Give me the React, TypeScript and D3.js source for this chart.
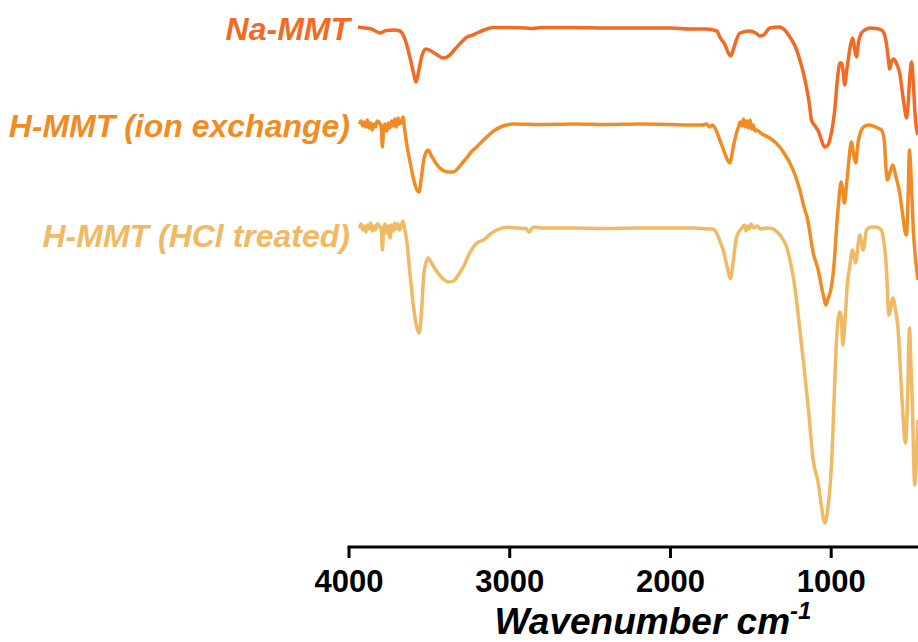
import React from "react";
import * as d3 from "d3";

// Wavenumber (cm^-1) and transmittance (a.u., offset stacked)
const naMMT: [number, number][] = [
  [3944, 521], [3900, 520], [3860, 519], [3807, 515], [3770, 517.5], [3720, 518], [3683, 517],
  [3650, 508], [3620, 490], [3600, 476], [3583, 466], [3565, 478], [3545, 493], [3521, 499],
  [3490, 497], [3450, 493], [3415, 490], [3380, 492], [3340, 499], [3300, 506], [3266, 511],
  [3230, 513], [3204, 515], [3160, 518], [3104, 520.5], [3000, 520.5], [2900, 520], [2860, 519.5],
  [2800, 520.5], [2600, 520.5], [2400, 520], [2200, 520], [2000, 520], [1880, 519], [1780, 519],
  [1711, 517], [1693, 511], [1660, 503], [1640, 495], [1626, 492], [1610, 498], [1590, 508],
  [1568, 515], [1506, 517], [1470, 515], [1444, 512], [1420, 513], [1382, 520], [1320, 521],
  [1290, 518], [1257, 511], [1225, 502], [1195, 488], [1170, 473], [1154, 461], [1135, 443],
  [1123, 428], [1100, 422], [1092, 420], [1075, 415], [1061, 408], [1040, 401], [1020, 403],
  [1009, 408], [990, 423], [978, 438], [960, 471], [945, 485], [937, 485], [925, 476], [916, 463],
  [905, 476], [897, 485], [880, 503], [866, 510], [855, 500], [843, 491], [830, 506], [812, 515],
  [790, 518], [760, 520], [720, 519.5], [688, 518], [672, 515], [657, 505], [645, 490], [636, 479],
  [625, 486], [611, 489], [590, 483], [574, 475], [555, 453], [540, 436], [532, 430], [522, 443],
  [510, 473], [500, 486], [490, 468], [480, 438], [470, 420], [460, 413],
];

const hIonExchange: [number, number][] = [
  [3935, 424], [3925, 427], [3915, 422], [3905, 426], [3895, 421], [3885, 428], [3875, 420],
  [3865, 425], [3855, 418], [3845, 424], [3835, 421], [3825, 427], [3800, 422], [3792, 401],
  [3785, 420], [3775, 424], [3765, 417], [3755, 425], [3745, 420], [3735, 427], [3725, 422],
  [3715, 429], [3705, 421], [3695, 430], [3685, 424], [3675, 426], [3664, 431], [3655, 420],
  [3640, 403], [3620, 386], [3600, 370], [3580, 359], [3564, 356], [3550, 370], [3535, 388],
  [3520, 396], [3508, 398], [3490, 393], [3460, 385], [3420, 378], [3380, 376], [3353, 376],
  [3320, 380], [3290, 386], [3268, 390], [3240, 396], [3206, 401], [3175, 406], [3143, 411],
  [3100, 417], [3042, 422], [2980, 424], [2800, 423.5], [2600, 424], [2400, 423.5], [2200, 424],
  [2000, 423.5], [1880, 423], [1800, 423], [1776, 424], [1755, 421], [1740, 423], [1720, 419],
  [1693, 408], [1665, 396], [1645, 388], [1630, 385], [1615, 396], [1600, 408], [1589, 415],
  [1575, 422], [1565, 426], [1555, 422], [1545, 429], [1535, 421], [1525, 427], [1515, 420],
  [1505, 428], [1495, 419], [1485, 423], [1475, 417], [1465, 418], [1430, 414], [1382, 410],
  [1320, 401], [1290, 394], [1257, 385], [1225, 373], [1195, 358], [1164, 338], [1150, 331],
  [1112, 295], [1081, 278], [1060, 261], [1045, 250], [1033, 243], [1020, 249], [999, 261],
  [980, 288], [969, 315], [955, 343], [938, 366], [930, 360], [918, 345], [905, 363], [897, 375],
  [885, 396], [874, 406], [860, 393], [847, 385], [835, 403], [812, 418], [790, 422], [760, 423],
  [725, 421], [688, 418], [670, 408], [660, 381], [650, 368], [630, 378], [616, 383], [600, 373],
  [574, 355], [555, 333], [540, 316], [532, 313], [522, 348], [513, 398], [505, 378], [488, 315],
  [470, 281], [460, 268],
];

const hHCl: [number, number][] = [
  [3935, 320], [3925, 324], [3915, 318], [3905, 322], [3895, 316], [3885, 323], [3875, 319],
  [3865, 325], [3855, 317], [3845, 322], [3835, 318], [3825, 324], [3800, 319], [3792, 298],
  [3785, 319], [3775, 324], [3765, 315], [3755, 322], [3745, 310], [3735, 323], [3725, 317],
  [3715, 325], [3705, 319], [3695, 324], [3685, 318], [3675, 322], [3664, 327], [3655, 320],
  [3640, 306], [3620, 273], [3600, 243], [3580, 222], [3563, 215], [3548, 238], [3535, 273],
  [3520, 286], [3507, 290], [3490, 286], [3460, 278], [3420, 270], [3380, 266], [3350, 267],
  [3320, 273], [3289, 281], [3255, 293], [3226, 301], [3195, 306], [3164, 308], [3120, 314],
  [3081, 318], [3019, 320.7], [2950, 320], [2900, 319.5], [2878, 315.7], [2860, 320], [2840, 321],
  [2800, 320], [2600, 320], [2400, 319.5], [2200, 320], [2000, 320], [1850, 320], [1760, 319],
  [1736, 319], [1713, 315], [1690, 306], [1672, 298], [1650, 283], [1626, 269.7], [1610, 286],
  [1589, 311], [1557, 319.7], [1540, 323], [1530, 317], [1520, 322], [1510, 319], [1500, 324],
  [1480, 320], [1460, 322], [1440, 319], [1400, 320], [1361, 319], [1330, 315], [1298, 308],
  [1275, 300], [1257, 288], [1235, 270], [1216, 248], [1195, 218], [1174, 188], [1143, 141],
  [1112, 88], [1081, 65], [1060, 41], [1040, 25], [1020, 41], [999, 81], [978, 165], [967, 208],
  [947, 236], [937, 231], [928, 203], [911, 235], [900, 263], [885, 281], [867, 298], [849, 285],
  [822, 313], [801, 298], [780, 318], [751, 321], [720, 321], [688, 318], [670, 303], [657, 281],
  [641, 233], [616, 250], [600, 238], [585, 221], [559, 148], [538, 105], [525, 148], [513, 220],
  [505, 188], [496, 148], [480, 63], [470, 88], [460, 128],
];

const seriesNames = ["Na-MMT", "H-MMT (ion exchange)", "H-MMT (HCl treated)"];
const seriesColors = ["#F26A24", "#F18C25", "#F0B963"];
const seriesData = [naMMT, hIonExchange, hHCl];
const labelBaselines = [40, 137, 247];
const xTicks = [4000, 3000, 2000, 1000];

const W = 918;
const H = 642;

export default function App() {
  const x = d3.scaleLinear().domain([4000, 460]).range([349, 918]);
  const y = d3.scaleLinear().domain([0, 530]).range([548, 18]);
  const line = d3
    .line<[number, number]>()
    .x((d) => x(d[0]))
    .y((d) => y(d[1]))
    .curve(d3.curveMonotoneX);
  const axisY = 547;

  return (
    <svg
      width={W}
      height={H}
      style={{ position: "absolute", left: 0, top: 0, background: "#fff" }}
      fontFamily="'Liberation Sans', Arial, sans-serif"
    >
      <defs>
        <clipPath id="plotclip">
          <rect x={0} y={0} width={W} height={axisY - 2} />
        </clipPath>
      </defs>
      <g clipPath="url(#plotclip)">
        {seriesData.map((s, i) => (
          <path
            key={i}
            d={line(s) || ""}
            fill="none"
            stroke={seriesColors[i]}
            strokeWidth={3.5}
            strokeLinejoin="round"
          />
        ))}
      </g>
      {seriesNames.map((n, i) => (
        <text
          key={n}
          x={350}
          y={labelBaselines[i]}
          textAnchor="end"
          fontSize={32}
          fontWeight="bold"
          fontStyle="italic"
          fill={seriesColors[i]}
        >
          {n}
        </text>
      ))}
      <line x1={x(4000) - 1.5} x2={W} y1={axisY} y2={axisY} stroke="#000" strokeWidth={3} />
      {xTicks.map((t) => (
        <g key={t}>
          <line x1={x(t)} x2={x(t)} y1={axisY} y2={axisY + 11} stroke="#000" strokeWidth={3} />
          <text
            x={x(t)}
            y={592}
            textAnchor="middle"
            fontSize={31}
            fontWeight="bold"
            fill="#000"
          >
            {t}
          </text>
        </g>
      ))}
      <text
        x={653}
        y={634}
        textAnchor="middle"
        fontSize={37}
        fontWeight="bold"
        fontStyle="italic"
        fill="#000"
      >
        Wavenumber cm
        <tspan fontSize={24} dy={-15}>-1</tspan>
      </text>
    </svg>
  );
}
